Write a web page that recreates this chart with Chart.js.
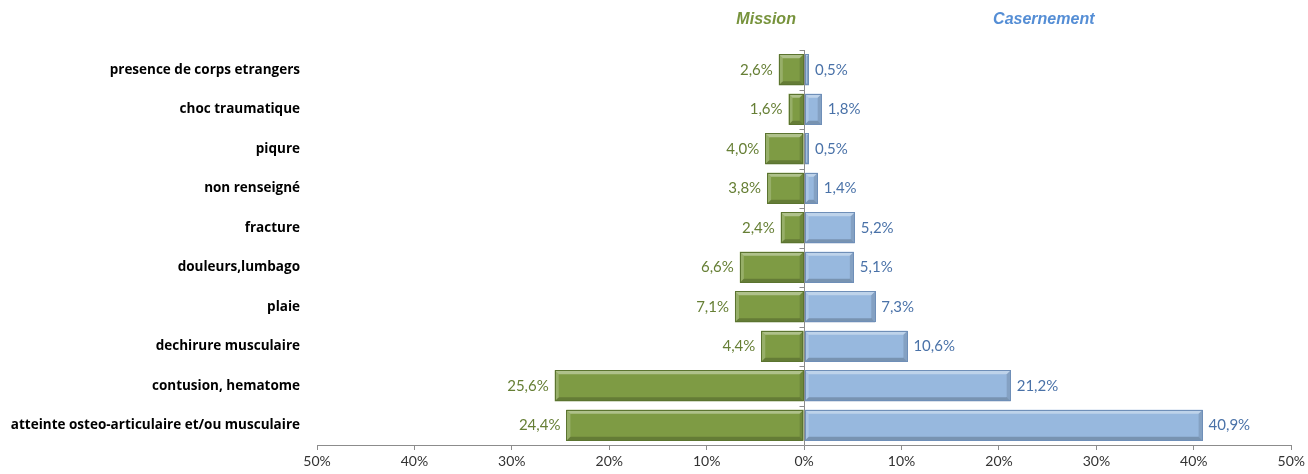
<!DOCTYPE html>
<html>
<head>
<meta charset="utf-8">
<script src="https://cdn.jsdelivr.net/npm/chart.js@4/dist/chart.umd.min.js"></script>
<style>
html,body{margin:0;padding:0;background:#fff;}
#wrap{position:relative;width:1308px;height:474px;}
</style>
</head>
<body>
<div id="wrap"><canvas id="c" width="1308" height="474"></canvas></div>
<script>
const categories = [
  "presence de corps etrangers",
  "choc traumatique",
  "piqure",
  "non renseigné",
  "fracture",
  "douleurs,lumbago",
  "plaie",
  "dechirure musculaire",
  "contusion, hematome",
  "atteinte osteo-articulaire et/ou musculaire"
];
const missionValues = [2.6, 1.6, 4.0, 3.8, 2.4, 6.6, 7.1, 4.4, 25.6, 24.4];
const casernementValues = [0.5, 1.8, 0.5, 1.4, 5.2, 5.1, 7.3, 10.6, 21.2, 40.9];
const seriesNames = ["Mission", "Casernement"];
const xTicks = [-50, -40, -30, -20, -10, 0, 10, 20, 30, 40, 50];

const GREEN = "#7E9B44", GREEN_DARK = "#5B7430", GREEN_TXT = "#667F35", GREEN_HEAD = "#77933C";
const BLUE = "#97B8DE", BLUE_DARK = "#6F8FB8", BLUE_TXT = "#4A72A8";
const AXIS = "#8C8C8C";

const fmt = v => Math.abs(v).toFixed(1).replace(".", ",") + "%";

const bevelPlugin = {
  id: "bevel",
  afterDatasetsDraw(chart) {
    const ctx = chart.ctx;
    chart.data.datasets.forEach((ds, di) => {
      const meta = chart.getDatasetMeta(di);
      meta.data.forEach(el => {
        const l = Math.min(el.x, el.base), r = Math.max(el.x, el.base);
        const t = el.y - el.height / 2, b = el.y + el.height / 2;
        const w = r - l;
        if (w < 1) return;
        const d = Math.min(4, w / 2);
        ctx.save();
        ctx.fillStyle = "rgba(255,255,255,0.38)";
        ctx.beginPath();
        ctx.moveTo(l, t); ctx.lineTo(r, t); ctx.lineTo(r - d, t + d); ctx.lineTo(l + d, t + d); ctx.closePath(); ctx.fill();
        ctx.fillStyle = "rgba(255,255,255,0.2)";
        ctx.beginPath();
        ctx.moveTo(l, t); ctx.lineTo(l + d, t + d); ctx.lineTo(l + d, b - d); ctx.lineTo(l, b); ctx.closePath(); ctx.fill();
        ctx.fillStyle = "rgba(0,0,0,0.2)";
        ctx.beginPath();
        ctx.moveTo(l, b); ctx.lineTo(r, b); ctx.lineTo(r - d, b - d); ctx.lineTo(l + d, b - d); ctx.closePath(); ctx.fill();
        ctx.fillStyle = "rgba(0,0,0,0.12)";
        ctx.beginPath();
        ctx.moveTo(r, t); ctx.lineTo(r, b); ctx.lineTo(r - d, b - d); ctx.lineTo(r - d, t + d); ctx.closePath(); ctx.fill();
        ctx.strokeStyle = di === 0 ? GREEN_DARK : BLUE_DARK;
        ctx.lineWidth = 1;
        ctx.strokeRect(Math.round(l) + 0.5, Math.round(t) + 0.5, Math.round(w) - 1, Math.round(el.height) - 1);
        ctx.restore();
      });
    });
    const xs = chart.scales.x, ys = chart.scales.y;
    const x0 = Math.round(xs.getPixelForValue(0)) + 0.5;
    ctx.save();
    ctx.strokeStyle = AXIS;
    ctx.lineWidth = 1;
    ctx.beginPath();
    ctx.moveTo(x0, chart.chartArea.top);
    ctx.lineTo(x0, chart.chartArea.bottom);
    for (let i = 0; i <= categories.length; i++) {
      const yy = Math.round(ys.getPixelForValue(i - 0.5)) + 0.5;
      ctx.moveTo(x0 - 5, yy); ctx.lineTo(x0, yy);
    }
    ctx.stroke();
    ctx.font = "15px Lato";
    ctx.textBaseline = "middle";
    chart.getDatasetMeta(0).data.forEach((el, i) => {
      ctx.fillStyle = GREEN_TXT;
      ctx.textAlign = "right";
      ctx.fillText(fmt(missionValues[i]), el.x - 6, el.y);
    });
    chart.getDatasetMeta(1).data.forEach((el, i) => {
      ctx.fillStyle = BLUE_TXT;
      ctx.textAlign = "left";
      ctx.fillText(fmt(casernementValues[i]), el.x + 6, el.y);
    });
    ctx.font = "italic bold 16px 'Liberation Sans'";
    ctx.textAlign = "center";
    ctx.fillStyle = GREEN_HEAD;
    ctx.fillText(seriesNames[0], xs.getPixelForValue(-3.9), 20);
    ctx.fillStyle = "#558ED5";
    ctx.fillText(seriesNames[1], xs.getPixelForValue(24.6), 20);
    ctx.restore();
  }
};

new Chart(document.getElementById("c"), {
  type: "bar",
  data: {
    labels: categories,
    datasets: [
      { label: seriesNames[0], data: missionValues.map(v => -v), backgroundColor: GREEN, borderWidth: 0,
        barPercentage: 0.79, categoryPercentage: 1 },
      { label: seriesNames[1], data: casernementValues, backgroundColor: BLUE, borderWidth: 0,
        barPercentage: 0.79, categoryPercentage: 1 }
    ]
  },
  options: {
    indexAxis: "y",
    responsive: false,
    animation: false,
    events: [],
    layout: { padding: { top: 50, right: 15, bottom: 0, left: 0 } },
    plugins: { legend: { display: false }, tooltip: { enabled: false } },
    scales: {
      x: {
        type: "linear",
        stacked: true,
        min: -50, max: 50,
        afterBuildTicks: s => { s.ticks = xTicks.map(v => ({ value: v })); },
        afterFit: s => { s.height = 29; },
        ticks: {
          callback: v => Math.abs(v) + "%",
          font: { family: "Lato", size: 14 },
          color: "#333333",
          padding: 3,
          maxRotation: 0
        },
        grid: { drawOnChartArea: false, drawTicks: true, tickLength: 5, color: AXIS },
        border: { display: true, color: AXIS }
      },
      y: {
        stacked: true,
        afterFit: s => { s.width = 317; },
        ticks: {
          font: { family: "Open Sans", size: 13.5, weight: "bold" },
          color: "#000000",
          padding: 17,
          autoSkip: false
        },
        grid: { display: false, drawTicks: false },
        border: { display: false }
      }
    }
  },
  plugins: [bevelPlugin]
});
</script>
</body>
</html>
